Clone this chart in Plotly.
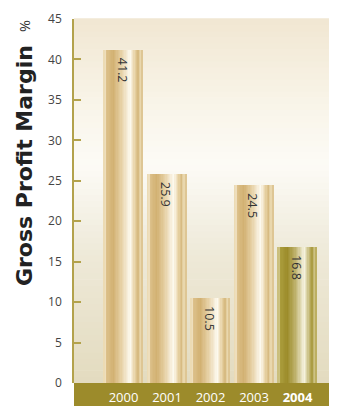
import plotly.graph_objects as go

# ---- data ----
years = ["2000", "2001", "2002", "2003", "2004"]
margins = [41.2, 25.9, 10.5, 24.5, 16.8]
y_ticks = [0, 5, 10, 15, 20, 25, 30, 35, 40, 45]
y_title = "Gross Profit Margin"
y_unit = "%"

# ---- styling helpers ----
def hex2rgb(h):
    h = h.lstrip("#")
    return tuple(int(h[i:i + 2], 16) for i in (0, 2, 4))

def interp(stops, t):
    for (t0, c0), (t1, c1) in zip(stops, stops[1:]):
        if t0 <= t <= t1:
            f = 0 if t1 == t0 else (t - t0) / (t1 - t0)
            a, b = hex2rgb(c0), hex2rgb(c1)
            return "rgb(%d,%d,%d)" % tuple(round(a[i] + (b[i] - a[i]) * f) for i in range(3))
    return stops[-1][1]

gold_stops = [(0.0, "#e6d2a2"), (0.04, "#f4e8cc"), (0.08, "#dcc08a"), (0.25, "#d2b172"),
              (0.45, "#e6d0a4"), (0.68, "#fdfaf0"), (0.80, "#e8d3a6"), (0.88, "#d6b97f"),
              (0.94, "#ecdcb4"), (1.0, "#d8be88")]
olive_stops = [(0.0, "#c2b468"), (0.04, "#d8cf98"), (0.08, "#aa9c3c"), (0.25, "#9c8c2a"),
               (0.45, "#bdb06a"), (0.68, "#f6f3e0"), (0.80, "#c8bd80"), (0.88, "#a99b40"),
               (0.94, "#d2c88e"), (1.0, "#b3a550")]

bg_stops = [(0.0, "#e3dbbf"), (0.35, "#eee9d8"), (0.6, "#fcfbf6"), (0.75, "#f9f5ea"), (1.0, "#f1e7d2")]

xpos = list(range(len(years)))
bar_w = 0.9
n_stripes = 30
sw = bar_w / n_stripes

fig = go.Figure()
for k in range(n_stripes):
    t = (k + 0.5) / n_stripes
    colors = [interp(gold_stops, t)] * (len(years) - 1) + [interp(olive_stops, t)]
    fig.add_trace(go.Bar(
        x=xpos, y=margins, offset=-bar_w / 2 + k * sw, width=sw * 1.08,
        marker=dict(color=colors, line=dict(width=0)),
        hoverinfo="skip", showlegend=False))

# value labels (rotated, just under each bar top)
annotations = []
for xi, v in zip(xpos, margins):
    annotations.append(dict(x=xi, y=v, xref="x", yref="y", text="%.1f" % v,
                            textangle=90, showarrow=False, xanchor="center",
                            yanchor="top", yshift=-6, xshift=-1,
                            font=dict(family="Open Sans", size=12.5, color="#333")))

# background gradient
shapes = []
nb = 60
for i in range(nb):
    shapes.append(dict(type="rect", xref="paper", yref="paper",
                       x0=0, x1=1, y0=i / nb, y1=(i + 1) / nb + 0.002,
                       fillcolor=interp(bg_stops, (i + 0.5) / nb), line=dict(width=0),
                       layer="below"))
# bottom band
shapes.append(dict(type="rect", xref="paper", yref="paper", x0=0, x1=1,
                   y0=-23 / 364, y1=0, fillcolor="#9c8b2b", line=dict(width=0), layer="below"))

ticktext = years[:-1] + ["<b>%s</b>" % years[-1]]

annotations += [
    dict(text="<b>%s</b>" % y_title, xref="paper", yref="paper",
         x=-0.19, y=0.596, textangle=-90, showarrow=False,
         xanchor="center", yanchor="middle",
         font=dict(family="DejaVu Sans", size=22, color="#222")),
    dict(text=y_unit, xref="paper", yref="paper", x=-0.186, y=0.981,
         textangle=-90, showarrow=False, xanchor="center", yanchor="middle",
         font=dict(family="Open Sans", size=14.5, color="#333")),
]

fig.update_layout(
    width=329, height=398,
    margin=dict(l=66, r=0, t=11, b=23),
    paper_bgcolor="white", plot_bgcolor="rgba(0,0,0,0)",
    barmode="overlay", bargap=0,
    shapes=shapes,
    font=dict(family="Open Sans", color="#444"),
    xaxis=dict(range=[-1.138, 4.908], tickvals=xpos, ticktext=ticktext,
               showgrid=False, zeroline=False, showline=False, ticks="",
               tickfont=dict(family="Open Sans", size=13, color="white"),
               ticklabelstandoff=5),
    yaxis=dict(range=[0, 45], tickvals=y_ticks, showgrid=False, zeroline=False,
               showline=True, linecolor="#b3a24c", linewidth=1.5,
               ticks="inside", ticklen=7, tickcolor="#b3a24c", tickwidth=1.5,
               tickfont=dict(family="Open Sans", size=12, color="#444"),
               ticklabelstandoff=8),
    annotations=annotations,
)

fig.write_html("out.html")
